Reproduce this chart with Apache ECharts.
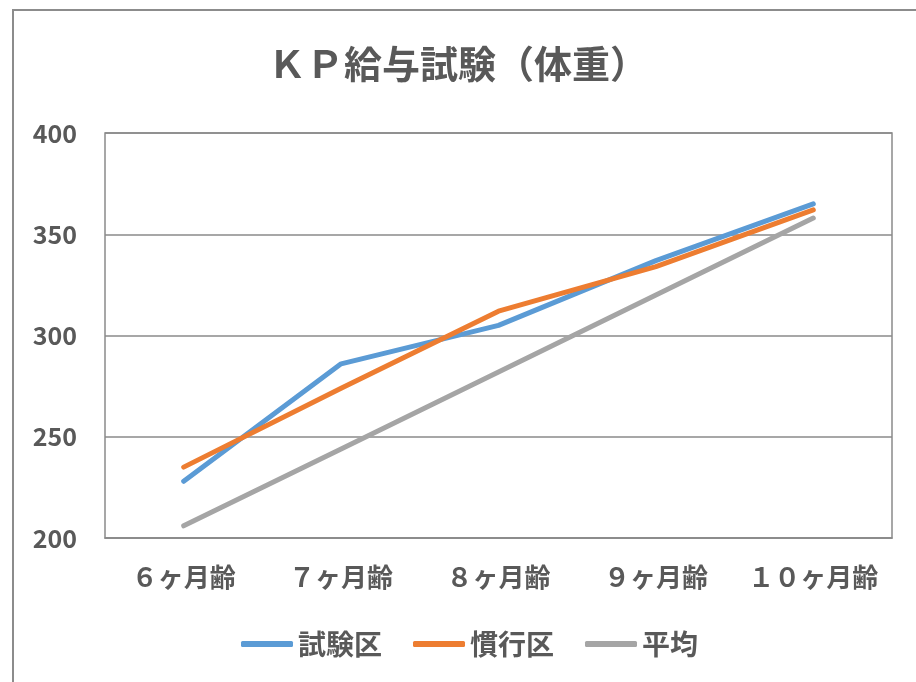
<!DOCTYPE html>
<html>
<head>
<meta charset="utf-8">
<script src="https://cdn.jsdelivr.net/npm/echarts@6/dist/echarts.min.js"></script>
<style>
  html, body { margin: 0; padding: 0; background: #fff; }
  #chart { width: 916px; height: 682px; }
</style>
</head>
<body>
<div id="chart"></div>
<script>
const titleText = 'ＫＰ給与試験（体重）';
const categories = ['６ヶ月齢', '７ヶ月齢', '８ヶ月齢', '９ヶ月齢', '１０ヶ月齢'];
const seriesNames = ['試験区', '慣行区', '平均'];
const testValues = [228, 286, 305, 337, 365];
const conventionalValues = [235, 274, 312, 334, 362];
const averageValues = [206, 244, 282, 320, 358];
const yTicks = [200, 250, 300, 350, 400];

const colors = ['#5B9BD5', '#ED7D31', '#A5A5A5'];
const textColor = '#595959';
const fontFamily = '"Noto Sans CJK JP", "Noto Sans", sans-serif';

const chart = echarts.init(document.getElementById('chart'), null, { renderer: 'canvas' });

function lineSeries(name, data, color) {
  return {
    name: name,
    type: 'line',
    data: data,
    symbol: 'none',
    showSymbol: false,
    smooth: false,
    lineStyle: { color: color, width: 5, cap: 'round', join: 'round' },
    itemStyle: { color: color }
  };
}

chart.setOption({
  animation: false,
  backgroundColor: '#ffffff',
  color: colors,
  graphic: [{
    type: 'rect',
    shape: { x: 13, y: 10, width: 1000, height: 1000 },
    style: { fill: 'none', stroke: '#8c8c8c', lineWidth: 2 },
    silent: true
  }],
  title: {
    text: titleText,
    left: 'center',
    top: 40,
    textStyle: { fontSize: 38, fontWeight: 'bold', color: textColor, fontFamily: fontFamily }
  },
  legend: {
    data: seriesNames,
    left: 236,
    top: 625,
    itemWidth: 52,
    itemHeight: 6,
    itemGap: 31,
    icon: 'roundRect',
    textStyle: { fontSize: 28, fontWeight: 'bold', color: textColor, fontFamily: fontFamily }
  },
  grid: {
    left: 105, right: 24, top: 133, bottom: 144,
    show: true, borderColor: '#8a8a8a', borderWidth: 1.5,
    containLabel: false
  },
  xAxis: {
    type: 'category',
    data: categories,
    boundaryGap: true,
    axisLine: { show: true, lineStyle: { color: '#8a8a8a', width: 1.5 } },
    axisTick: { show: false },
    axisLabel: { margin: 26, fontSize: 26, fontWeight: 'bold', color: textColor, fontFamily: fontFamily, interval: 0 }
  },
  yAxis: {
    type: 'value',
    min: yTicks[0],
    max: yTicks[yTicks.length - 1],
    interval: 50,
    axisLine: { show: false },
    axisTick: { show: false },
    splitLine: { show: true, lineStyle: { color: '#8a8a8a', width: 1.5 } },
    axisLabel: { margin: 28, fontSize: 25, fontWeight: 'bold', color: textColor, fontFamily: fontFamily }
  },
  series: [
    lineSeries(seriesNames[0], testValues, colors[0]),
    lineSeries(seriesNames[1], conventionalValues, colors[1]),
    lineSeries(seriesNames[2], averageValues, colors[2])
  ]
});
</script>
</body>
</html>
